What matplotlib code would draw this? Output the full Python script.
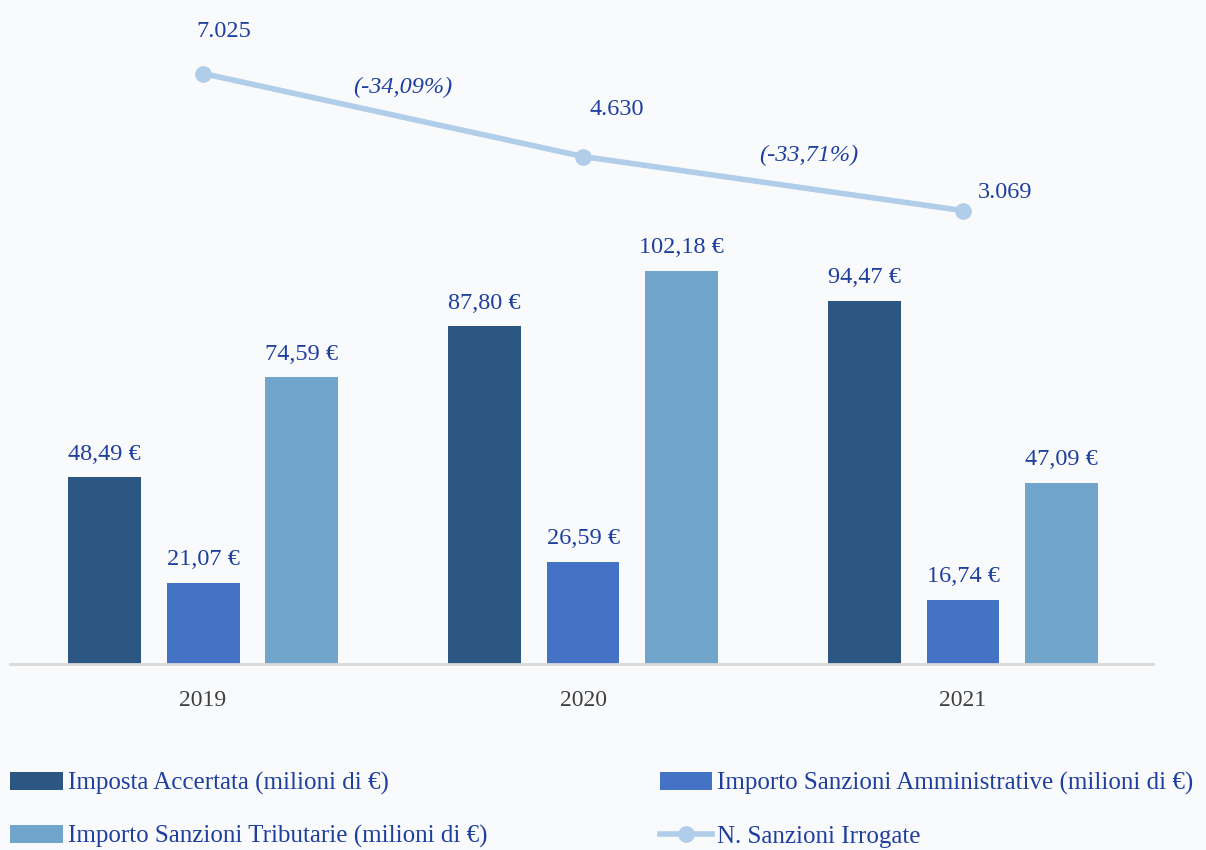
import matplotlib.pyplot as plt
import numpy as np

# data
anni = ['2019', '2020', '2021']
imposta = [48.49, 87.80, 94.47]
sanz_amm = [21.07, 26.59, 16.74]
sanz_trib = [74.59, 102.18, 47.09]
n_sanzioni = [7025, 4630, 3069]
variazioni = ['(-34,09%)', '(-33,71%)']

def eur(v):
    return ('%.2f' % v).replace('.', ',') + ' €'

def migliaia(v):
    return '{:,}'.format(v).replace(',', '.')

plt.rcParams['font.family'] = ['Liberation Serif', 'DejaVu Serif']
bg = '#F9FAFC'
txt = '#1F3F9F'
c_imp, c_amm, c_trib, c_line = '#2C5782', '#4472C4', '#71A5CB', '#B0CDE9'

fig = plt.figure(figsize=(12.06, 8.5), dpi=100, facecolor=bg)
ax = fig.add_axes([10/1206, 1-664/850, 1143/1206, 664/850])
ax.set_facecolor(bg)

x = np.arange(len(anni))
w = 0.192
off = 0.26
b1 = ax.bar(x - off, imposta, w, color=c_imp, label='Imposta Accertata (milioni di €)')
b2 = ax.bar(x, sanz_amm, w, color=c_amm, label='Importo Sanzioni Amministrative (milioni di €)')
b3 = ax.bar(x + off, sanz_trib, w, color=c_trib, label='Importo Sanzioni Tributarie (milioni di €)')
for bars, vals in [(b1, imposta), (b2, sanz_amm), (b3, sanz_trib)]:
    ax.bar_label(bars, labels=[eur(v) for v in vals], padding=9, fontsize=17.5, color=txt)

ax.set_xlim(-0.508, 2.5)
ax.set_ylim(0, 172.6)
ax.set_xticks(x)
ax.set_xticklabels(anni, fontsize=17, color='#404040')
ax.tick_params(axis='x', length=0, pad=19)
ax.set_yticks([])
for s in ['top', 'right', 'left']:
    ax.spines[s].set_visible(False)
ax.spines['bottom'].set_color('#D9D9D9')
ax.spines['bottom'].set_linewidth(2)

ax2 = ax.twinx()
ax2.set_ylim(-10011, 9146)
ln, = ax2.plot(x, n_sanzioni, color=c_line, lw=4, marker='o', ms=11,
               label='N. Sanzioni Irrogate')
ax2.set_yticks([])
for s in ax2.spines.values():
    s.set_visible(False)

lab_off = [(21, 42), (34, 47), (42, 18)]
for xi, v, (dx, dy) in zip(x, n_sanzioni, lab_off):
    ax2.annotate(migliaia(v), (xi, v), xytext=(dx * 0.72, dy * 0.72),
                 textcoords='offset points', ha='center', va='center',
                 fontsize=17.5, color=txt)

# variazioni percentuali tra gli anni
var_off = [(7, 20), (26, 20)]
for i, t in enumerate(variazioni):
    xm = (x[i] + x[i + 1]) / 2
    ym = (n_sanzioni[i] + n_sanzioni[i + 1]) / 2
    ax2.annotate(t, (xm, ym), xytext=var_off[i], textcoords='offset points',
                 ha='center', va='center', fontsize=17.5, style='italic', color=txt)

handles = [b1, b3, b2, ln]
labels = [h.get_label() for h in handles]
leg = fig.legend(handles, labels, ncol=2, loc='upper left',
                 bbox_to_anchor=(0.0, 1 - 762/850), frameon=False,
                 fontsize=18, handlelength=2.1, handleheight=0.7,
                 handletextpad=0.2, columnspacing=6.9, labelspacing=1.2,
                 borderaxespad=0, borderpad=0.4)
for t in leg.get_texts():
    t.set_color(txt)

fig.savefig('out.png', dpi=100, facecolor=bg)
